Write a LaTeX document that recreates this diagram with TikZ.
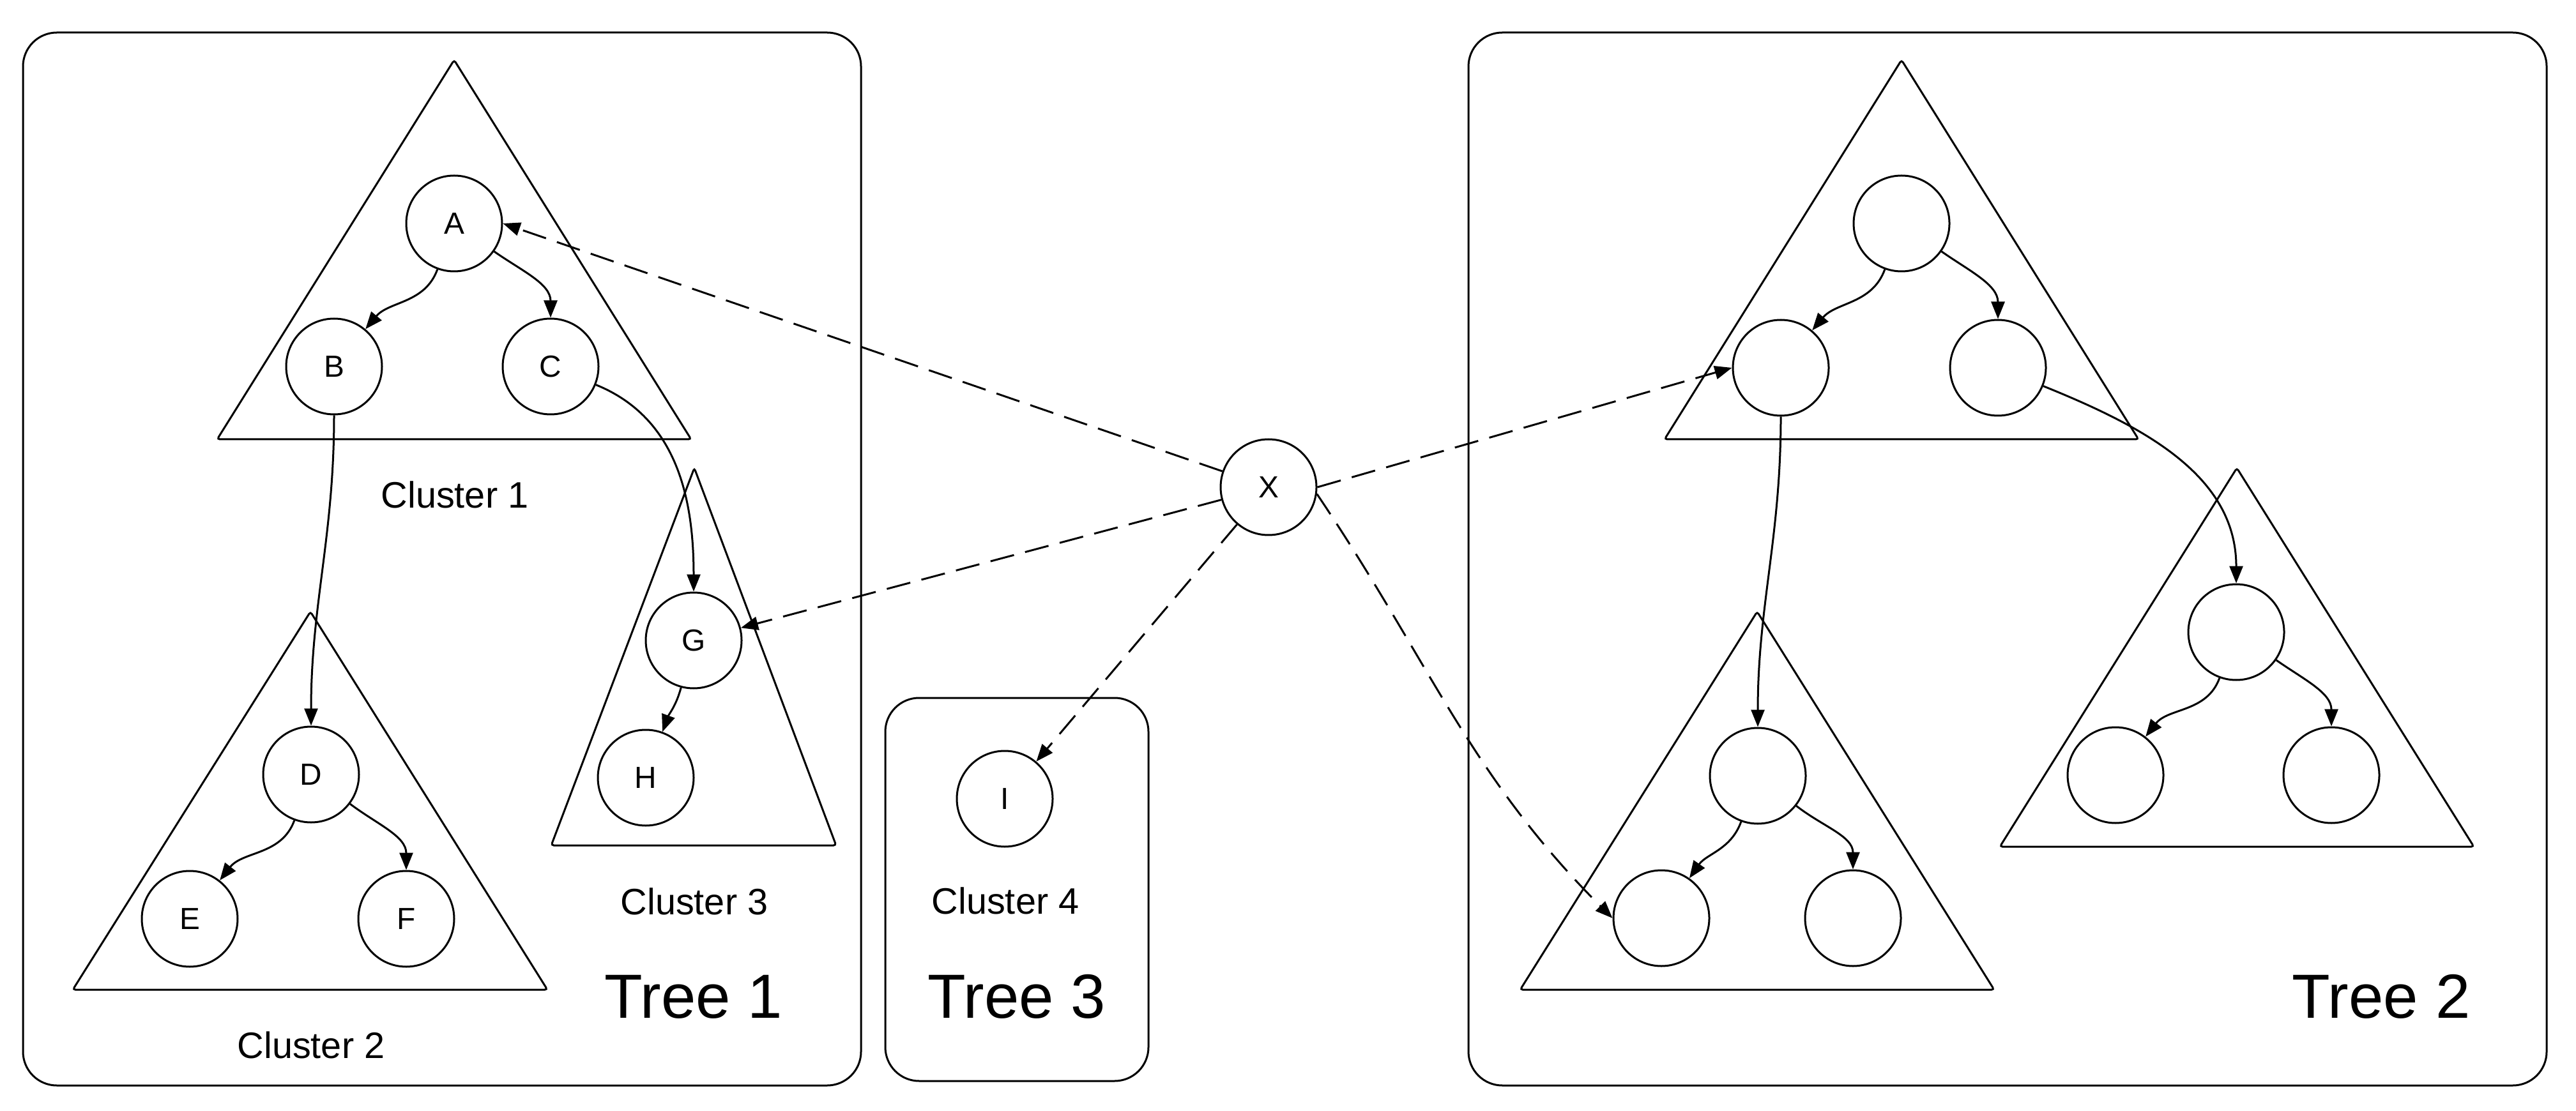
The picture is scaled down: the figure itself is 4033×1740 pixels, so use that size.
\documentclass[tikz,border=0pt]{standalone}
\usepackage{fontspec}
\setmainfont{Liberation Sans}
\usetikzlibrary{arrows.meta}
\begin{document}
\begin{tikzpicture}[x=0.1mm,y=0.1mm,
  line width=0.3mm,
  vert/.style={circle, draw, minimum size=15mm, inner sep=0pt, font=\fontsize{13.6}{16}\selectfont},
  tri/.style={draw, rounded corners=0.4mm, line width=0.3mm},
  box/.style={draw, rounded corners=5.3mm},
  clab/.style={anchor=base, font=\fontsize{16.4}{19}\selectfont, inner sep=0pt},
  tlab/.style={anchor=base, font=\fontsize{27.8}{32}\selectfont, inner sep=0pt},
  arr/.style={-{Triangle[length=2.7mm,width=2.1mm]}},
  darr/.style={arr, dash pattern=on 3.8mm off 1.8mm},
]
\useasboundingbox (0,0) rectangle (4033,-1740);

% boxes
\draw[box] (36,-51) rectangle (1348,-1700);
\draw[box] (1386,-1093) rectangle (1798,-1693);
\draw[box] (2299,-51) rectangle (3987,-1700);

% triangles
\draw[tri] (711,-94) -- (1082,-688) -- (340,-688) -- cycle;
\draw[tri] (486,-958) -- (857,-1550) -- (114,-1550) -- cycle;
\draw[tri] (1087,-733) -- (1309,-1324) -- (863,-1324) -- cycle;
\draw[tri] (2977,-94) -- (3348,-688) -- (2606,-688) -- cycle;
\draw[tri] (2751,-958) -- (3122,-1550) -- (2380,-1550) -- cycle;
\draw[tri] (3502,-733) -- (3873,-1326) -- (3131,-1326) -- cycle;

% tree 1 nodes
\node[vert] (A) at (711,-350) {A};
\node[vert] (B) at (523,-574) {B};
\node[vert] (C) at (862,-574) {C};
\node[vert] (D) at (487,-1213) {D};
\node[vert] (E) at (297,-1439) {E};
\node[vert] (F) at (636,-1439) {F};
\node[vert] (G) at (1086,-1003) {G};
\node[vert] (H) at (1011,-1218) {H};
% tree 3
\node[vert] (I) at (1573,-1251) {I};
% X
\node[vert] (X) at (1986,-763) {X};
% tree 2 nodes
\node[vert] (P) at (2977,-350) {};
\node[vert] (PL) at (2788,-576) {};
\node[vert] (PR) at (3128,-576) {};
\node[vert] (Q) at (2752,-1215) {};
\node[vert] (QL) at (2601,-1438) {};
\node[vert] (QR) at (2901,-1438) {};
\node[vert] (S) at (3501,-990) {};
\node[vert] (SL) at (3312,-1214) {};
\node[vert] (SR) at (3650,-1214) {};

% labels
\node[clab] (l1) at (712,-795) {Cluster 1};
\node[clab] (l2) at (487,-1657) {Cluster 2};
\node[clab] (l3) at (1087,-1432) {Cluster 3};
\node[clab] (l4) at (1574,-1431) {Cluster 4};
\node[tlab] (t1) at (1086,-1594) {Tree 1};
\node[tlab] (t3) at (1592,-1594) {Tree 3};
\node[tlab] (t2) at (3728,-1594) {Tree 2};

% tree 1 edges
\draw[arr] (A) to[out=-110,in=50] (B);
\draw[arr] (A) to[out=-35,in=90] (C);
\draw[arr] (D) to[out=-110,in=52] (E);
\draw[arr] (D) to[out=-37,in=90] (F);
\draw[arr] (B) to[out=-90,in=90] (D);
\draw[arr] (C) to[out=-22,in=90] (G);
\draw[arr] (G) to[out=-105,in=70] (H);

% tree 2 edges
\draw[arr] (P) to[out=-110,in=50] (PL);
\draw[arr] (P) to[out=-35,in=90] (PR);
\draw[arr] (Q) to[out=-110,in=55] (QL);
\draw[arr] (Q) to[out=-38,in=90] (QR);
\draw[arr] (S) to[out=-110,in=52] (SL);
\draw[arr] (S) to[out=-35,in=90] (SR);
\draw[arr] (PL) to[out=-90,in=90] (Q);
\draw[arr] (PR) to[out=-22,in=90] (S);

% dashed links from X
\draw[darr] (X) -- (A.east);
\draw[darr] (X) -- (G);
\draw[darr] (X) -- (I);
\draw[darr] (X.east) -- (PL.west);
\draw[darr] (X.-8) to[out=-56,in=135] (QL.west);
\end{tikzpicture}
\end{document}
